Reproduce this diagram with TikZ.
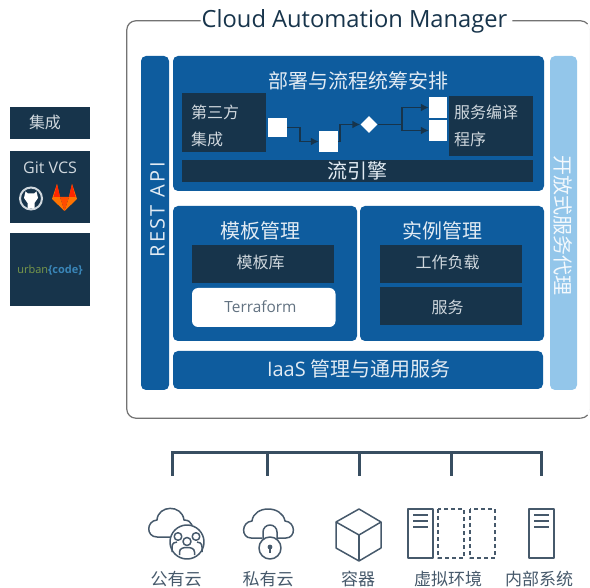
\documentclass[tikz,border=0pt]{standalone}
\usepackage{fontspec}
\setmainfont{Open Sans}
\newfontfamily\cjk{Noto Sans CJK SC}
\usetikzlibrary{arrows.meta, shapes.geometric, positioning}
\definecolor{cablue}{HTML}{0E5C9E}
\definecolor{canavy}{HTML}{17344B}
\definecolor{caline}{HTML}{46596B}
\definecolor{casky}{HTML}{93C6EA}
\definecolor{catext}{HTML}{D0D8DE}

\begin{document}
\begin{tikzpicture}[x=1pt,y=-1pt,>={Latex[length=8pt,width=8pt]},
	panel/.style={inner sep=0pt,rounded corners=5pt,fill=cablue,text=white},
	darkbox/.style={inner sep=0pt,fill=canavy,text=catext},
	whitebox/.style={inner sep=0pt,fill=white},
	bigtext/.style={inner sep=0pt,text=white!88!cablue,font=\fontsize{20}{24}\selectfont\cjk},
	smalltext/.style={inner sep=0pt,text=catext,font=\fontsize{16}{27}\selectfont\cjk},
	captiontext/.style={inner sep=0pt,text=caline,font=\fontsize{17}{20}\selectfont\cjk},
	flowline/.style={->,draw=canavy,line width=1.8pt},
	busline/.style={draw=caline!70!canavy,line width=3pt,line cap=rect},
	iconline/.style={draw=caline,line width=1.5pt,line join=round},
	dashline/.style={iconline,dash pattern=on 4pt off 3pt}]
	\useasboundingbox (0,0) rectangle (590,588);
	
	% outer frame
	\node[draw=black!6,rounded corners=9pt,minimum width=462.5pt,minimum height=397pt,inner sep=0pt] (frame) at (358.25,219.5) {};
	\node[inner sep=0pt,text=canavy,font=\fontsize{23.7}{28}\selectfont] (title) at (354.5,21.5) {Cloud Automation Manager};
	\draw[draw=black!55,line width=1.2pt,rounded corners=9pt] ([xshift=-1pt]title.west |- frame.north) -| (frame.west) |- ([xshift=-9pt]frame.south east);
	\draw[draw=black!55,line width=1.2pt] ([xshift=-9pt]frame.south east) arc[start angle=270,end angle=320,radius=9pt];
	\draw[draw=black!55,line width=1.2pt] ([xshift=5pt]title.east |- frame.north) -- ([xshift=-9pt]frame.north east) arc[start angle=90,end angle=40,radius=9pt];
	
	% side panels
	\node[panel,minimum width=28pt,minimum height=334pt] (rest) at (155,223) {};
	\node[inner sep=0pt,text=white!88!cablue,rotate=90,font=\fontsize{20}{24}\selectfont\addfontfeature{LetterSpace=12}] (resttext) at (157.5,210) {REST API};
	\node[panel,fill=casky,minimum width=27pt,minimum height=334pt] (broker) at (563.5,223) {};
	\node[bigtext,text=white!90!casky,rotate=-90] (brokertext) at (563,226) {开放式服务代理};
	
	% orchestration
	\node[panel,minimum width=371pt,minimum height=135pt] (orch) at (358.5,123.5) {};
	\node[bigtext] (orchtext) at (358.5,81) {部署与流程统筹安排};
	\node[darkbox,minimum width=84pt,minimum height=59pt] (third) at (224,122.5) {};
	\node[smalltext,align=left,anchor=west] (thirdtext) at (191,125.5) {第三方\\集成};
	\node[darkbox,minimum width=84pt,minimum height=60pt] (svc) at (491,126) {};
	\node[smalltext,align=left,anchor=west] (svctext) at (454,125.5) {服务编译\\程序};
	\node[darkbox,text=white!88!cablue,font=\fontsize{20}{24}\selectfont\cjk,minimum width=351pt,minimum height=22pt] (engine) at (357.5,171) {流引擎};
	
	\node[whitebox,minimum width=19pt,minimum height=19pt] (s1) at (277.5,127.5) {};
	\node[whitebox,minimum width=19pt,minimum height=21pt] (s2) at (328.5,141.5) {};
	\node[whitebox,diamond,minimum width=17pt,minimum height=17pt] (gate) at (369,124.5) {};
	\node[whitebox,minimum width=18pt,minimum height=21pt] (s3) at (438,107.5) {};
	\node[whitebox,minimum width=18pt,minimum height=21pt] (s4) at (438,130.5) {};
	\coordinate (split) at (402,124.5);
	
	\draw[flowline] (s1.east) -- ++(13,0) |- (s2.west);
	\draw[flowline] (s2.east) -- ++(2,0) |- (gate.west);
	\draw[draw=canavy,line width=1.8pt] (gate.east) -- (split);
	\draw[flowline] (split) |- (s3.west);
	\draw[flowline] (split) |- (s4.west);
	
	% template and instance management
	\node[panel,minimum width=184pt,minimum height=135pt] (template) at (265,273.5) {};
	\node[bigtext] (templatetext) at (260.5,231) {模板管理};
	\node[darkbox,minimum width=142pt,minimum height=38pt] (repo) at (263,264) {};
	\node[smalltext] (repotext) at (260.5,262) {模板库};
	\node[whitebox,rounded corners=6pt,minimum width=143.5pt,minimum height=39pt] (tf) at (263.75,307.5) {};
	\node[inner sep=0pt,text=caline!85,font=\fontsize{15.4}{20}\selectfont] (tftext) at (260.5,307) {Terraform};
	
	\node[panel,minimum width=184pt,minimum height=135pt] (instance) at (452,273.5) {};
	\node[bigtext] (instancetext) at (442.5,231) {实例管理};
	\node[darkbox,minimum width=142pt,minimum height=38pt] (workload) at (451,264) {};
	\node[smalltext] (workloadtext) at (447.5,262) {工作负载};
	\node[darkbox,minimum width=142pt,minimum height=38pt] (service) at (451,306) {};
	\node[smalltext] (servicetext) at (447.5,307) {服务};
	
	\node[panel,minimum width=370pt,minimum height=38pt] (iaas) at (358,370) {};
	\node[inner sep=0pt,text=white!88!cablue,font=\fontsize{20}{24}\selectfont] (iaastext) at (359,369) {IaaS {\cjk 管理与通用服务}};
	
	% integrations
	\node[darkbox,minimum width=80pt,minimum height=32pt] (integ) at (50,123) {};
	\node[smalltext] (integtext) at (45,122) {集成};
	\node[darkbox,minimum width=80pt,minimum height=72pt] (git) at (50,187) {};
	\node[inner sep=0pt,text=catext,font=\fontsize{16}{20}\selectfont] (gittext) at (50,168) {Git VCS};
	\node[darkbox,minimum width=80pt,minimum height=73pt] (urban) at (50,269.5) {};
	\node[inner sep=0pt,font=\fontsize{11}{14}\selectfont] (urbantext) at (50,270) {\textcolor[HTML]{7A9A4A}{urban}\textcolor[HTML]{3A86B8}{\textbf{\{code\}}}};
	
	% git logos
	\draw[draw=catext,line width=2pt] (31,198.5) circle[radius=11pt];
	\fill[white] (25.5,191.5) -- (28,193.5) -- (34,193.5) -- (36.5,191.5) -- (38,198) -- (34.5,203) -- (34.5,208.5) -- (27.5,208.5) -- (27.5,203) -- (24,198) -- cycle;
	\fill[orange!90!red] (52,199) -- (57,184) -- (60,197) -- (64.5,211) -- cycle;
	\fill[orange!90!red] (77,199) -- (72,184) -- (69,197) -- (64.5,211) -- cycle;
	\fill[red!70!orange] (57,184) -- (60,197) -- (53.5,197) -- cycle;
	\fill[red!70!orange] (72,184) -- (69,197) -- (75.5,197) -- cycle;
	\fill[orange!60!red] (60,197) -- (69,197) -- (64.5,211) -- cycle;
	
	% bus
	\foreach \n/\x in {1/172,2/267,3/359,4/451,5/541} {
		\coordinate (b\n) at (\x,453);
		\coordinate (d\n) at (\x,475);
	}
	\draw[busline] (b1) -- (b5);
	\foreach \n in {1,...,5} \draw[busline] (b\n) -- (d\n);
	
	% public cloud
	\draw[iconline] (170,537) -- (157,537) .. controls (146,537) and (146,521) .. (157,520) .. controls (158,505) and (182,504) .. (184,520) .. controls (188,520) and (191,522) .. (192,525);
	\draw[iconline] (187,542) circle[radius=17pt];
	\draw[iconline] (178,536.5) circle[radius=3.8pt];
	\draw[iconline] (196,536.5) circle[radius=3.8pt];
	\draw[iconline] (172,552) -- (172,547) .. controls (172,543) and (175,542) .. (177,542);
	\draw[iconline] (202,552) -- (202,547) .. controls (202,543) and (199,542) .. (197,542);
	\draw[iconline,fill=white] (187,541.5) circle[radius=4pt];
	\draw[iconline] (179.5,555) -- (179.5,552) .. controls (179.5,548) and (184,547.5) .. (187,547.5) .. controls (190,547.5) and (194.5,548) .. (194.5,552) -- (194.5,555);
	
	% private cloud
	\draw[iconline] (262,538) -- (251,538) .. controls (241,538) and (241,522) .. (252,521) .. controls (254,505) and (282,505) .. (285,521) .. controls (296,522) and (296,538) .. (286,538) -- (278,538);
	\draw[iconline] (263,539) -- (263,532) arc[start angle=180,end angle=0,radius=7pt] -- (277,539);
	\draw[iconline] (270,548) circle[radius=11pt];
	\fill[caline] (270,547) circle[radius=2.4pt];
	\fill[caline] (269,547) -- (271,547) -- (271,553) -- (269,553) -- cycle;
	
	% container
	\draw[iconline] (359,509) -- (381,522) -- (381,548) -- (359,561) -- (336,548) -- (336,522) -- cycle;
	\draw[iconline] (336,522) -- (359,535) -- (381,522);
	\draw[iconline] (359,535) -- (359,561);
	
	% servers
	\draw[iconline] (408,509) rectangle (433,558);
	\draw[dashline] (438,509) rectangle (464,558);
	\draw[dashline] (470,509) rectangle (495,558);
	\draw[iconline] (529,509) rectangle (554,558);
	\foreach \x in {413,534} \foreach \y in {515,521,527} \draw[iconline] (\x,\y) -- ++(15,0);
	
	% captions
	\node[captiontext] (public) at (176,579) {公有云};
	\node[captiontext] (private) at (268,579) {私有云};
	\node[captiontext] (container) at (358,579) {容器};
	\node[captiontext] (virtual) at (448,579) {虚拟环境};
	\node[captiontext] (internal) at (539,579) {内部系统};
\end{tikzpicture}
\end{document}
